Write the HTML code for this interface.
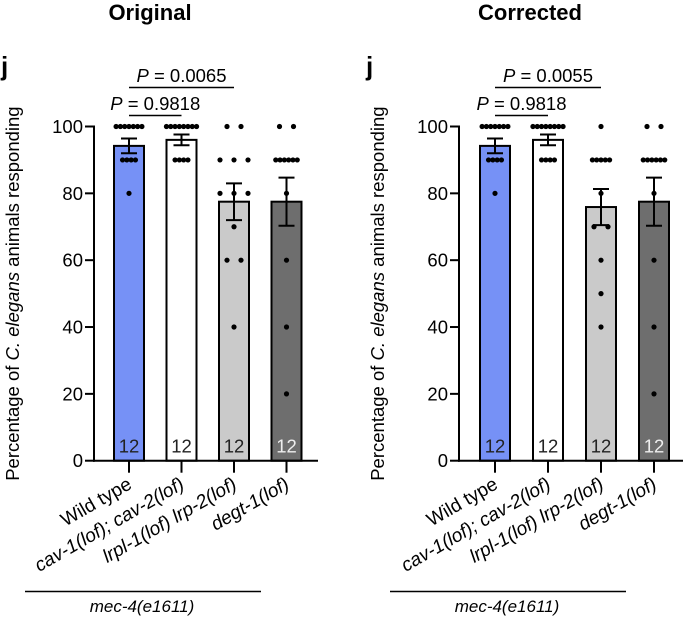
<!DOCTYPE html>
<html><head><meta charset="utf-8"><style>
html,body{margin:0;padding:0;background:#fff;}
svg{display:block;font-family:"Liberation Sans",Arial,sans-serif;}
</style></head><body>
<svg id="chart" width="685" height="618" viewBox="0 0 685 618"></svg>
<script>
const categories = ["Wild type","cav-1(lof); cav-2(lof)","lrpl-1(lof) lrp-2(lof)","degt-1(lof)"];
const yTicks = [0,20,40,60,80,100];
const nLabels = ["12","12","12","12"];
const barColors = ["#7691f6","#ffffff","#cacaca","#6e6e6e"];
const nColors = ["#222","#222","#222","#eee"];
// Original panel
const origMeans = [94.2, 96.0, 77.5, 77.5];
const origSem = [2.2, 1.6, 5.5, 7.2];
const origPoints = [
  [100,100,100,100,100,100,100,90,90,90,90,80],
  [100,100,100,100,100,100,100,100,90,90,90,90],
  [100,100,90,90,90,80,80,80,70,60,60,40],
  [100,100,90,90,90,90,90,90,80,60,40,20]
];
const origP = ["0.0065","0.9818"];
// Corrected panel
const corrMeans = [94.2, 96.0, 75.9, 77.5];
const corrSem = [2.2, 1.6, 5.4, 7.2];
const corrPoints = [
  [100,100,100,100,100,100,100,90,90,90,90,80],
  [100,100,100,100,100,100,100,100,90,90,90,90],
  [100,90,90,90,90,90,80,70,70,60,50,40],
  [100,100,90,90,90,90,90,90,80,60,40,20]
];
const corrP = ["0.0055","0.9818"];

const NS="http://www.w3.org/2000/svg";
const svg=document.getElementById('chart');
function mk(tag,attrs,parent,text){
  const e=document.createElementNS(NS,tag);
  for(const k in attrs)e.setAttribute(k,attrs[k]);
  if(text!==undefined)e.textContent=text;
  (parent||svg).appendChild(e);return e;
}
function panel(cfg){
  const g=mk('g',{});
  
  
  const y0=460.7,y100=126.5;
  const yS=v=>y0-(v/100)*(y0-y100);
  const xS=i=>cfg.x0+i*cfg.step;
  const bw=30;
  const t=mk('text',{x:cfg.titleX,y:20,'font-size':22,'font-weight':'bold','text-anchor':'middle'},g,cfg.title);
  
  
  const j=mk('text',{x:cfg.ax-93,y:75,'font-size':26,'font-weight':'bold'},g,'j');
  
  
  const ya=mk('line',{x1:cfg.ax,y1:y100-1,x2:cfg.ax,y2:y0+1,stroke:'#000','stroke-width':2},g);
  
  
  yTicks.forEach(v=>{
    mk('line',{x1:cfg.ax-9,y1:yS(v),x2:cfg.ax,y2:yS(v),stroke:'#000','stroke-width':2},g);
    const tl=mk('text',{x:cfg.ax-11,y:yS(v)+6.5,'font-size':18.5,'text-anchor':'end'},g,String(v));
    
    
  });
  const yl=mk('text',{transform:`translate(${cfg.ax-75},${(y0+y100)/2+0}) rotate(-90)`,'font-size':18.5,'text-anchor':'middle'},g);
  
  
  mk('tspan',{},yl,'Percentage of ');
  mk('tspan',{'font-style':'italic'},yl,'C. elegans');
  mk('tspan',{},yl,' animals responding');
  cfg.means.forEach((m,i)=>{
    const cx=xS(i);
    const b=mk('rect',{x:cx-bw/2,y:yS(m),width:bw,height:y0-yS(m),fill:barColors[i],stroke:'#000','stroke-width':2},g);
    
    
    const nl=mk('text',{x:cx,y:y0-8,'font-size':18.5,'text-anchor':'middle',fill:nColors[i]},g,nLabels[i]);
    
    
    const groups={};
    cfg.points[i].forEach(v=>{groups[v]=(groups[v]||0)+1;});
    Object.keys(groups).forEach(k=>{
      const n=groups[k];
      const sp = n>3 ? 4.3 : 14;
      for(let q=0;q<n;q++){
        const px=cx+(q-(n-1)/2)*sp;
        const d=mk('circle',{cx:px,cy:yS(+k),r:2.6,fill:'#000'},g);
        
        
      }
    });
    const s=cfg.sem[i];
    const eb=mk('path',{d:`M${cx},${yS(m+s)}V${yS(m-s)}M${cx-8},${yS(m+s)}H${cx+8}M${cx-8},${yS(m-s)}H${cx+8}`,stroke:'#000','stroke-width':2,fill:'none'},g);
    
    
    mk('line',{x1:cx,y1:y0,x2:cx,y2:y0+12,stroke:'#000','stroke-width':2},g);
    const xl=mk('text',{transform:`translate(${cx+4},${y0+27}) rotate(-30)`,'font-size':19,'text-anchor':'end','font-style':i===0?'normal':'italic'},g,categories[i]);
    
    
  });
  const xa=mk('line',{x1:cfg.ax-1,y1:y0,x2:cfg.axEnd,y2:y0,stroke:'#000','stroke-width':2},g);
  
  
  const sig=[[0,2,87.5,77],[0,1,115.5,105]];
  sig.forEach((s,k)=>{
    mk('line',{x1:xS(s[0]),y1:s[2],x2:xS(s[1]),y2:s[2],stroke:'#000','stroke-width':1.5},g);
    const pt=mk('text',{x:(xS(s[0])+xS(s[1]))/2,y:s[3]+5,'font-size':18.5,'text-anchor':'middle'},g);
    
    
    mk('tspan',{'font-style':'italic'},pt,'P');
    mk('tspan',{},pt,' = '+cfg.p[k]);
  });
  const gl=mk('line',{x1:cfg.ax-69,y1:591.5,x2:cfg.ax+167,y2:591.5,stroke:'#000','stroke-width':1.5},g);
  
  
  const gt=mk('text',{x:cfg.ax+48,y:612,'font-size':17,'font-style':'italic','text-anchor':'middle'},g,'mec-4(e1611)');
  
  
}
panel({name:'original-panel',title:'Original',titleX:150,ax:94,axEnd:318,x0:129,step:52.5,means:origMeans,sem:origSem,points:origPoints,p:origP});
panel({name:'corrected-panel',title:'Corrected',titleX:530,ax:459,axEnd:683,x0:495,step:53,means:corrMeans,sem:corrSem,points:corrPoints,p:corrP});
</script>
</body></html>
